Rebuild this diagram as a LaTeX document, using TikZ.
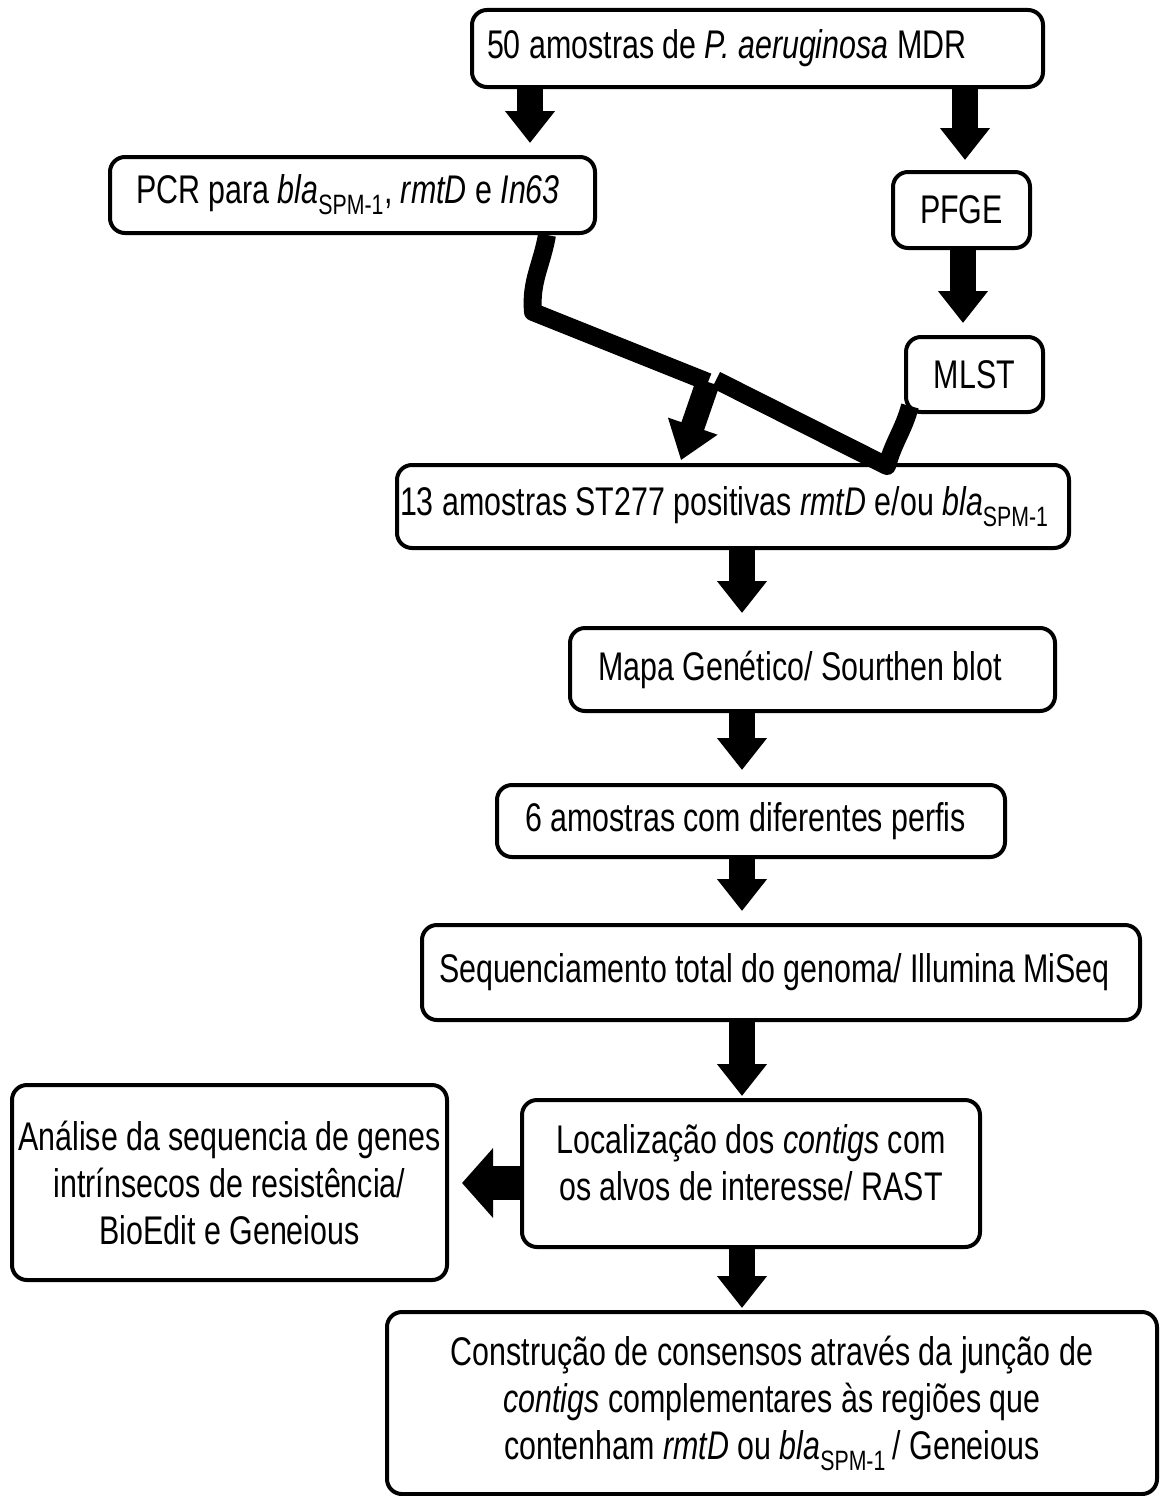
\documentclass[tikz,border=0pt]{standalone}
\usepackage{fontspec}
\setmainfont{Liberation Sans}[FakeStretch=0.76]
\usetikzlibrary{arrows.meta, positioning}

\newcommand{\blaspm}{\textit{bla}\textsubscript{SPM-1}}

\begin{document}
\begin{tikzpicture}[
    x=1pt, y=-1pt,
    font=\fontsize{40}{47}\selectfont,
    box/.style={draw, rounded corners=15pt, line width=4pt, align=center, inner sep=0pt},
    lbox/.style={box, align=flush left},
    blk/.style={line width=26pt, -{Triangle[width=48pt, length=32pt]}},
    bar/.style={line width=18pt, line join=round}
]
\useasboundingbox (0,0) rectangle (1160,1496);

    % Define boxes
    \node[lbox, text width=541pt, inner xsep=15pt, minimum height=77] (top) at (757.5,48.5) {50 amostras de \textit{P. aeruginosa} MDR};
    \node[lbox, text width=433pt, inner xsep=26pt, minimum height=76] (pcr) at (352.5,195) {PCR para \blaspm, \textit{rmtD} e \textit{In63}};
    \node[box, minimum width=137, minimum height=76] (pfge) at (961.5,210) {PFGE};
    \node[box, minimum width=137, minimum height=75] (mlst) at (974.5,374.5) {MLST};
    \node[lbox, text width=666pt, inner xsep=3pt, minimum height=83] (st) at (733,506.5) {13 amostras ST277 positivas \textit{rmtD} e/ou \blaspm};
    \node[lbox, text width=429pt, inner xsep=28pt, minimum height=83] (mapa) at (812.5,669.5) {Mapa Genético/ Sourthen blot};
    \node[lbox, text width=452pt, inner xsep=28pt, minimum height=72] (seis) at (751,821) {6 amostras com diferentes perfis};
    \node[lbox, text width=684pt, inner xsep=17pt, minimum height=95] (seq) at (781,972.5) {Sequenciamento total do genoma/ Illumina MiSeq};
    \node[box, minimum width=458, minimum height=147] (loc) at (751,1173.5) {Localização dos \textit{contigs} com\\os alvos de interesse/ RAST\\[-24pt]};
    \node[box, minimum width=435, minimum height=195] (ana) at (229.5,1182.5) {Análise da sequencia de genes\\intrínsecos de resistência/\\BioEdit e Geneious};
    \node[box, minimum width=770, minimum height=182] (cons) at (772,1403) {Construção de consensos através da junção de\\\textit{contigs} complementares às regiões que\\contenham \textit{rmtD} ou \blaspm\,/ Geneious};

    % Bends of the merging bars
    \coordinate (bend) at (533,312);
    \coordinate (fork) at (708,382);
    \coordinate (join) at (887,466);

    % Block arrows
    \draw[blk, shorten >=12pt] ([xshift=-227.5]top.south) -- ([xshift=177.5]pcr.north);
    \draw[blk, shorten >=10pt] ([xshift=207.5]top.south) -- ([xshift=3.5]pfge.north);
    \draw[blk, shorten >=12pt] ([xshift=1.5]pfge.south) -- ([xshift=-11.5]mlst.north);
    \draw[blk, shorten >=13pt] ([xshift=9]st.south) -- ([xshift=-70.5]mapa.north);
    \draw[blk, shorten >=13pt] ([xshift=-70.5]mapa.south) -- ([xshift=-9]seis.north);
    \draw[blk, shorten >=12pt] ([xshift=-9]seis.south) -- ([xshift=-39]seq.north);
    \draw[blk, shorten >=2pt] ([xshift=-39]seq.south) -- ([xshift=-9]loc.north);
    \draw[blk, shorten >=2pt] ([xshift=-9]loc.south) -- ([xshift=-30]cons.north);
    \draw[blk, line width=34pt, -{Triangle[width=68pt, length=31pt]}, shorten >=13pt]
        ([yshift=-9.5]loc.west) -- ([yshift=-9.5]loc.west -| ana.east);

    % Bars from PCR and MLST into the ST277 box
    \draw[bar] ([xshift=-50]pcr.south east) to[out=-100, in=95] (bend) -- (fork);
    \draw[bar] ([xshift=8, yshift=2]fork) -- (join) to[out=75, in=-105] ([xshift=6, yshift=8]mlst.south west);
    \draw[blk, line width=24pt, -{Triangle[width=50pt, length=36pt]}, shorten >=3pt] (fork) -- ([xshift=-53]st.north);
\end{tikzpicture}
\end{document}
